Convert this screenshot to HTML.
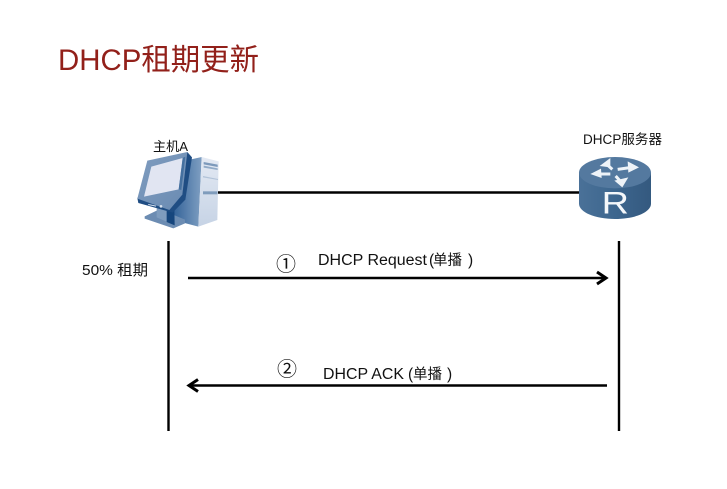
<!DOCTYPE html>
<html lang="zh">
<head>
<meta charset="utf-8">
<title>DHCP租期更新</title>
<style>
html,body{margin:0;padding:0;background:#fff}
svg{display:block;filter:blur(.3px)}
text{font-family:"Liberation Sans","Noto Sans CJK SC",sans-serif;fill:#111}
</style>
</head>
<body>
<svg width="727" height="489" viewBox="0 0 727 489" xmlns="http://www.w3.org/2000/svg">
<defs>
  <linearGradient id="side" x1="0" y1="0" x2="1" y2="0">
    <stop offset="0" stop-color="#2f5f96"/><stop offset="1" stop-color="#7f9fc2"/>
  </linearGradient>
  <linearGradient id="front" x1="0" y1="0" x2="0" y2="1">
    <stop offset="0" stop-color="#e3e9f3"/><stop offset="1" stop-color="#c6d3e5"/>
  </linearGradient>
  <linearGradient id="bezel" x1="0" y1="0" x2="1" y2="1">
    <stop offset="0" stop-color="#7f9cbf"/><stop offset="1" stop-color="#6a8bb2"/>
  </linearGradient>
  <linearGradient id="body" x1="0" y1="0" x2="1" y2="0">
    <stop offset="0" stop-color="#4a7198"/><stop offset=".5" stop-color="#3d668e"/><stop offset="1" stop-color="#34597f"/>
  </linearGradient>
</defs>
<rect width="727" height="489" fill="#fff"/>
<text x="58" y="70" font-size="30" style="fill:#92201a" textLength="201" lengthAdjust="spacingAndGlyphs">DHCP租期更新</text>

<line x1="215" y1="192.500" x2="582" y2="192.500" stroke="#000" stroke-width="2.400"/>

<!-- Host -->
<g transform="translate(130 148) scale(.33333)">
  <!-- tower -->
  <polygon points="175,36 215,27 205,236 125,215" fill="url(#side)"/>
  <polygon points="215,27 266,40 262,216 205,236" fill="url(#front)"/>
  <polygon points="221,42 263,50 263,57 221,49" fill="#7d9abb"/>
  <polygon points="221,53 263,61 263,66 221,59" fill="#90aac7"/>
  <polygon points="219,84 264,93 264,96 219,88" fill="#b2c3d8"/>
  <polygon points="219,130 262,130 262,139 219,139" fill="#7f9cbc"/>
  <!-- stand -->
  <polygon points="44,205 80,188 110,192 165,215 165,226 130,241 44,212" fill="#6c8cb2"/>
  <polygon points="80,180 112,185 112,222 80,208" fill="#7e9cbe"/>
  <polygon points="110,185 133,178 134,232 110,222" fill="#16467d"/>
  <!-- monitor -->
  <polygon points="172,12 186,28 166,155 128,194 25,165 22,150" fill="#1f4d83"/>
  <polygon points="52,38 172,12 157,140 118,186 22,152" fill="url(#bezel)"/>
  <polygon points="64,56 158,30 146,124 42,146" fill="#e1e5f2"/>
  <polygon points="158,30 166,26 154,126 146,124" fill="#45709f"/>
  <rect x="55" y="168" width="24" height="3" fill="#d8e2ee" transform="rotate(12 55 168)"/>
  <circle cx="93" cy="175" r="4" fill="#d8e2ee"/>
</g>
<text x="153" y="151" font-size="13" textLength="35" lengthAdjust="spacingAndGlyphs">主机A</text>

<!-- Router -->
<g transform="translate(575 152) scale(.33333)">
  <path d="M12 62V155C12 181 60 201 120 201S228 181 228 155V62Z" fill="url(#body)"/>
  <ellipse cx="120" cy="62" rx="108" ry="47" fill="#54799f"/>
  <g fill="none" stroke="#eef3f8" stroke-width="9">
    <path d="M112 52L92 34"/>
    <path d="M128 52L170 46"/>
    <path d="M106 66L66 66"/>
    <path d="M122 72L138 90"/>
  </g>
  <g fill="#eef3f8">
    <polygon points="74,42 106,18 106,46"/>
    <polygon points="158,28 192,46 160,62"/>
    <polygon points="46,66 78,50 80,78"/>
    <polygon points="118,86 160,76 142,106"/>
  </g>
  <text x="80" y="185" font-size="94" style="fill:#f4f7fa" textLength="82" lengthAdjust="spacingAndGlyphs">R</text>
</g>
<text x="583" y="144" font-size="13.500" textLength="79" lengthAdjust="spacingAndGlyphs">DHCP服务器</text>

<!-- Lifelines -->
<line x1="168.500" y1="241" x2="168.500" y2="431" stroke="#000" stroke-width="2.400"/>
<line x1="619" y1="241" x2="619" y2="431" stroke="#000" stroke-width="2.400"/>

<!-- Request -->
<line x1="188" y1="278" x2="604" y2="278" stroke="#000" stroke-width="2.400"/>
<path d="M597 272L606 278L597 284" fill="none" stroke="#000" stroke-width="3"/>
<text x="82" y="275" font-size="15" textLength="66" lengthAdjust="spacingAndGlyphs">50% 租期</text>
<text x="276" y="271" font-size="20">①</text>
<text y="265" font-size="15.500"><tspan x="318" textLength="109" lengthAdjust="spacingAndGlyphs">DHCP Request</tspan><tspan x="429">(</tspan><tspan x="433" font-size="14.500">单播</tspan><tspan x="468">)</tspan></text>

<!-- ACK -->
<line x1="191" y1="385.500" x2="607" y2="385.500" stroke="#000" stroke-width="2.400"/>
<path d="M198 379.500L189 385.500L198 391.500" fill="none" stroke="#000" stroke-width="3"/>
<text x="277" y="376" font-size="20">②</text>
<text y="379" font-size="15.500"><tspan x="323" textLength="81" lengthAdjust="spacingAndGlyphs">DHCP ACK</tspan><tspan x="408">(</tspan><tspan x="413" font-size="14.500">单播</tspan><tspan x="447">)</tspan></text>
</svg>
</body>
</html>
